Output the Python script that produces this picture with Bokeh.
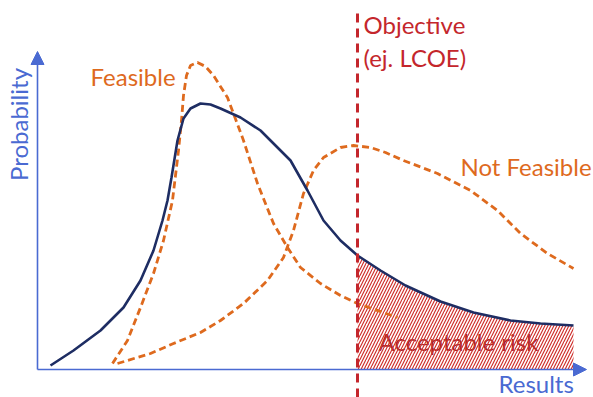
import math
from bokeh.plotting import figure
from bokeh.models import Range1d, Arrow, NormalHead
from bokeh.core.properties import value
from bokeh.embed import file_html
from bokeh.resources import INLINE

# ---- data (conceptual units: x = result, y = probability density) ----
total_x = [13, 36, 63, 86, 103, 116, 125, 130, 134, 140, 146, 153, 163, 173, 183,
           203, 223, 233, 253, 270, 286, 303, 320, 343, 368, 403, 436, 473, 503, 536]
total_y = [4, 19, 39, 62, 89, 119, 149, 169, 192, 229, 251, 261, 266, 265, 261,
           252, 239, 229, 209, 179, 149, 129, 114, 99, 84, 68, 57, 49, 46, 44]

feasible_x = [75, 90, 103, 116, 126, 135, 141, 144, 146, 149, 153, 160, 168,
              176, 190, 206, 220, 236, 250, 263, 283, 303, 320, 360]
feasible_y = [6, 29, 62, 96, 129, 169, 219, 249, 274, 294, 304, 307, 303,
              294, 272, 229, 186, 146, 122, 102, 86, 74, 66, 52]

notfeas_x = [80, 113, 136, 163, 183, 206, 230, 246, 256, 266, 276, 286, 303,
             316, 333, 348, 366, 400, 433, 460, 483, 510, 536]
notfeas_y = [6, 16, 26, 37, 49, 66, 89, 112, 139, 176, 199, 212, 222,
             224, 222, 217, 209, 196, 179, 159, 136, 116, 101]

objective_x = 320
x_axis_end = 549
y_axis_end = 318

BLUE_AXIS = "#4A6AD2"
NAVY = "#1E2D63"
ORANGE = "#DE6A1E"
RED = "#C4262C"
FONT = "Lato"
FS = "24px"

p = figure(width=593, height=397, output_backend="svg", toolbar_location=None,
           x_range=Range1d(-37, 556), y_range=Range1d(-28, 369),
           x_axis_type=None, y_axis_type=None, min_border=0)
p.outline_line_color = None
p.grid.visible = False

# axes with arrows
p.add_layout(Arrow(end=NormalHead(size=13, fill_color=BLUE_AXIS, line_color=BLUE_AXIS),
                   x_start=0, y_start=0, x_end=0, y_end=y_axis_end,
                   line_color=BLUE_AXIS, line_width=1.6))
p.add_layout(Arrow(end=NormalHead(size=13, fill_color=BLUE_AXIS, line_color=BLUE_AXIS),
                   x_start=0, y_start=0, x_end=x_axis_end, y_end=0,
                   line_color=BLUE_AXIS, line_width=1.6))

# texts
p.text(x=[-19], y=[245], text=["Probability"], angle=math.pi / 2,
       text_align="center", text_baseline="middle", text_color=BLUE_AXIS,
       text_font=value(FONT), text_font_size=FS)
p.text(x=[461], y=[-14], text=["Results"], text_align="left", text_baseline="middle",
       text_color=BLUE_AXIS, text_font=value(FONT), text_font_size=FS)
p.text(x=[53], y=[293], text=["Feasible"], text_align="left", text_baseline="middle",
       text_color=ORANGE, text_font=value(FONT), text_font_size=FS)
p.text(x=[423], y=[203], text=["Not Feasible"], text_align="left", text_baseline="middle",
       text_color=ORANGE, text_font=value(FONT), text_font_size=FS)
p.text(x=[326, 326], y=[345, 312], text=["Objective", "(ej. LCOE)"], text_align="left",
       text_baseline="middle", text_color=RED, text_font=value(FONT), text_font_size=FS)
p.text(x=[341], y=[28], text=["Acceptable risk"], text_align="left", text_baseline="middle",
       text_color="#A8272A", text_font=value(FONT), text_font_size=FS)

# hatched acceptable-risk area under the total curve beyond the objective
risk_x = [x for x in total_x if x >= objective_x]
risk_y = [y for x, y in zip(total_x, total_y) if x >= objective_x]
p.varea(x=risk_x, y1=[0] * len(risk_x), y2=risk_y, fill_alpha=0,
        hatch_pattern="/", hatch_color="#D0302C", hatch_scale=6, hatch_weight=1.2)

# curves
p.line(feasible_x, feasible_y, line_color=ORANGE, line_width=2.8, line_dash="7 4")
p.line(notfeas_x, notfeas_y, line_color=ORANGE, line_width=2.8, line_dash="7 4")
p.line(total_x, total_y, line_color=NAVY, line_width=2.6)

# objective line
p.segment(x0=[objective_x], y0=[-28], x1=[objective_x], y1=[357],
          line_color=RED, line_width=3, line_dash="9 6")

open("out.html", "w").write(file_html(p, INLINE))
